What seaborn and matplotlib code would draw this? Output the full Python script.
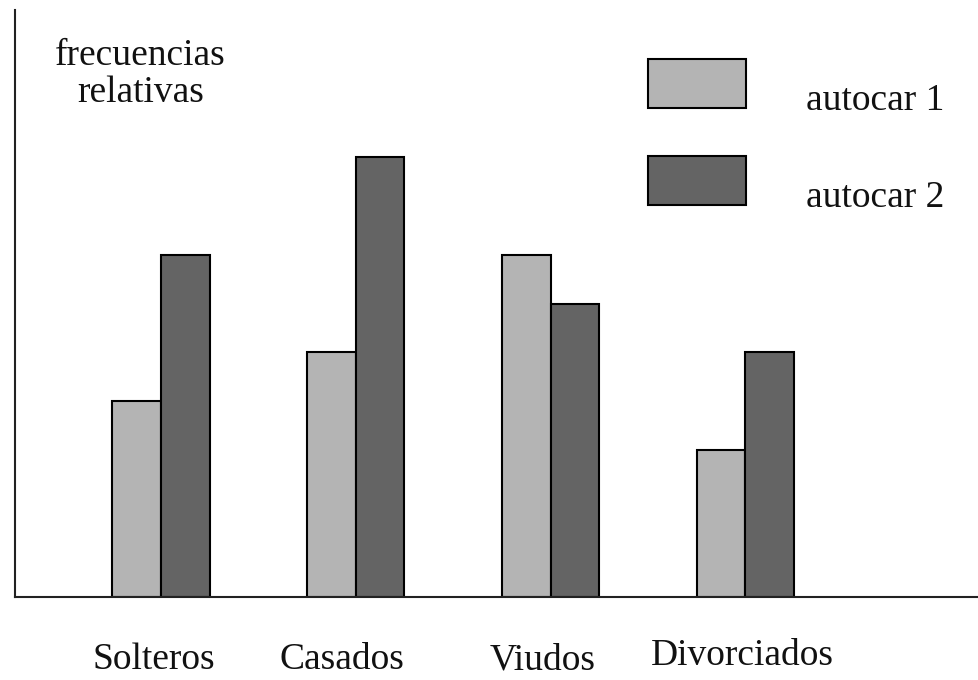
import pandas as pd
import seaborn as sns
import matplotlib.pyplot as plt
from matplotlib.transforms import ScaledTranslation

# data
categorias = ["Solteros", "Casados", "Viudos", "Divorciados"]
autocar_1 = [4, 5, 7, 3]
autocar_2 = [7, 9, 6, 5]
series = ["autocar 1", "autocar 2"]
colores = {"autocar 1": "#b4b4b4", "autocar 2": "#646464"}

df = pd.DataFrame({
    "estado": categorias * 2,
    "serie": [series[0]] * 4 + [series[1]] * 4,
    "frecuencia": autocar_1 + autocar_2,
})

sns.set_style("white")
plt.rcParams["font.family"] = ["Liberation Serif", "DejaVu Serif"]

fig = plt.figure(figsize=(9.79, 6.8), dpi=100)
ax = fig.add_axes([15 / 979, 83 / 680, 964 / 979, 587 / 680])

sns.barplot(data=df, x="estado", y="frecuencia", hue="serie",
            order=categorias, hue_order=series, palette=colores,
            width=0.5, edgecolor="black", linewidth=1.5, ax=ax)

ax.set_xlim(-0.75, 4.2)
ax.set_ylim(0, 12)
ax.set_xlabel("")
ax.set_ylabel("")
ax.set_yticks([])
ax.tick_params(axis="x", length=0, pad=33, labelsize=27, labelcolor="#111111")
ax.set_xticks(range(len(categorias)))
ax.set_xticklabels(categorias)
# labels sit a little left of the bar groups in the original
offsets = [(-7, 0), (-14, 0), (-8, 0), (-3, 4)]
for lab, (dx, dy) in zip(ax.get_xticklabels(), offsets):
    lab.set_transform(lab.get_transform() + ScaledTranslation(dx / 100, dy / 100, fig.dpi_scale_trans))

for side in ["top", "right"]:
    ax.spines[side].set_visible(False)
for side in ["left", "bottom"]:
    ax.spines[side].set_color("#222222")
    ax.spines[side].set_linewidth(1.5)

ax.text(0.13, 0.952, "frecuencias\nrelativas", transform=ax.transAxes,
        ha="center", va="top", multialignment="center",
        fontsize=27, linespacing=1.1, color="#111111")

handles, labels = ax.get_legend_handles_labels()
leg = ax.legend(handles, labels, loc="upper left", bbox_to_anchor=(0.6375, 0.948),
                frameon=False, fontsize=27, handlelength=2.6, handleheight=1.61,
                handletextpad=1.6, labelspacing=1.3, borderpad=0)
for t in leg.get_texts():
    t.set_color("#111111")
    t.set_transform(t.get_transform() + ScaledTranslation(0, -0.14, fig.dpi_scale_trans))

fig.savefig("out.png", dpi=100)
